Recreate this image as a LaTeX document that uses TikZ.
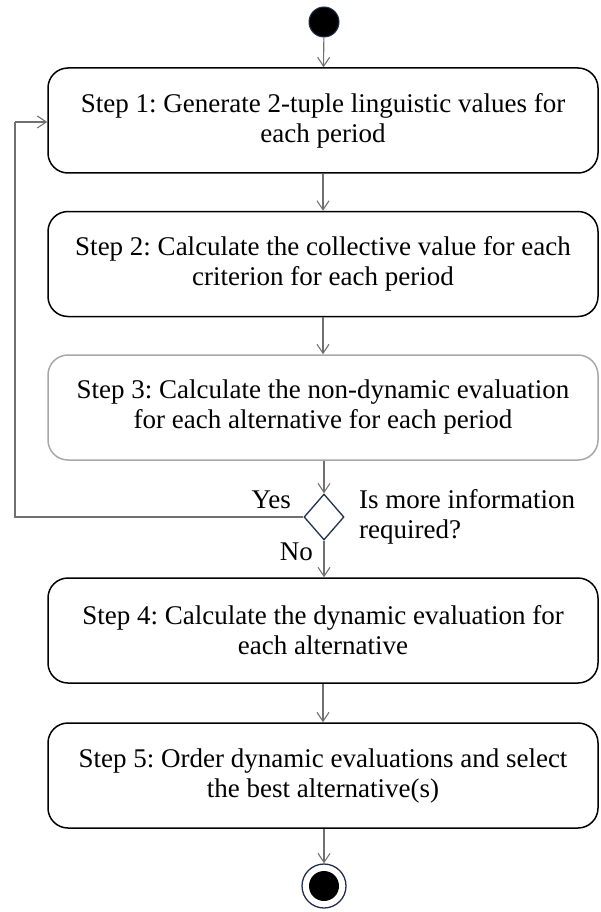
\documentclass[tikz,border=0pt]{standalone}
\usepackage{fontspec}
\setmainfont{Liberation Serif}
\usetikzlibrary{shapes.geometric,arrows.meta}
\definecolor{conn}{HTML}{707070}
\definecolor{navy}{HTML}{1F3050}
\definecolor{boxgray}{HTML}{A8A8A8}
\frenchspacing
\begin{document}
\begin{tikzpicture}[x=1pt,y=-1pt,
  stepbox/.style={draw=black,line width=1.5pt,rounded corners=20pt,fill=white,
    minimum width=550pt,minimum height=105pt,align=center,inner sep=0pt,
    font=\fontsize{27}{30}\selectfont},
  lbl/.style={font=\fontsize{27}{30}\selectfont,inner sep=0pt},
  flow/.style={draw=conn,line width=1.1pt,-{Straight Barb[length=9pt,width=12pt]}},
  loopline/.style={draw=conn,line width=1.1pt}]
\useasboundingbox (0,0) rectangle (600,912);
\node[circle,fill=black,draw=navy,line width=1pt,minimum size=30pt,inner sep=0pt] (start) at (324,22) {};
\node[stepbox] (s1) at (323,120.5) {Step 1: Generate 2-tuple linguistic values for\\each period};
\node[stepbox] (s2) at (323,264) {Step 2: Calculate the collective value for each\\criterion for each period};
\node[stepbox,draw=boxgray] (s3) at (323,407.5) {Step 3: Calculate the non-dynamic evaluation\\for each alternative for each period};
\node[diamond,draw=navy,line width=1.3pt,fill=white,minimum width=40pt,minimum height=46pt,inner sep=0pt] (dec) at (324,517) {};
\node[stepbox] (s4) at (323,630.5) {Step 4: Calculate the dynamic evaluation for\\each alternative};
\node[stepbox] (s5) at (323,775.5) {Step 5: Order dynamic evaluations and select\\the best alternative(s)};
\node[circle,draw=navy,line width=1.3pt,fill=white,minimum size=44pt,inner sep=0pt] (endo) at (324,886) {};
\node[circle,fill=black,minimum size=30pt,inner sep=0pt] (endi) at (endo.center) {};
\node[lbl,anchor=base east] (yes) at (291,508) {Yes};
\node[lbl,anchor=base west,align=left] (q) at (359,538) {Is more information\\required?};
\node[lbl,anchor=base east] (no) at (313,560) {No};
\coordinate (lpa) at (15,517);
\coordinate (lpb) at (15,122);
\draw[flow] (start) -- (s1);
\draw[flow] (s1) -- (s2);
\draw[flow] (s2) -- (s3);
\draw[flow] (s3.south -| dec.north) -- (dec.north);
\draw[flow] (dec.south) -- (s4.north -| dec.south);
\draw[flow] (s4) -- (s5);
\draw[flow] (s5.south -| endo.north) -- (endo.north);
\draw[loopline] (dec.west) -- (lpa) -- (lpb);
\draw[flow] (lpb) -- (lpb -| s1.west);
\end{tikzpicture}
\end{document}
